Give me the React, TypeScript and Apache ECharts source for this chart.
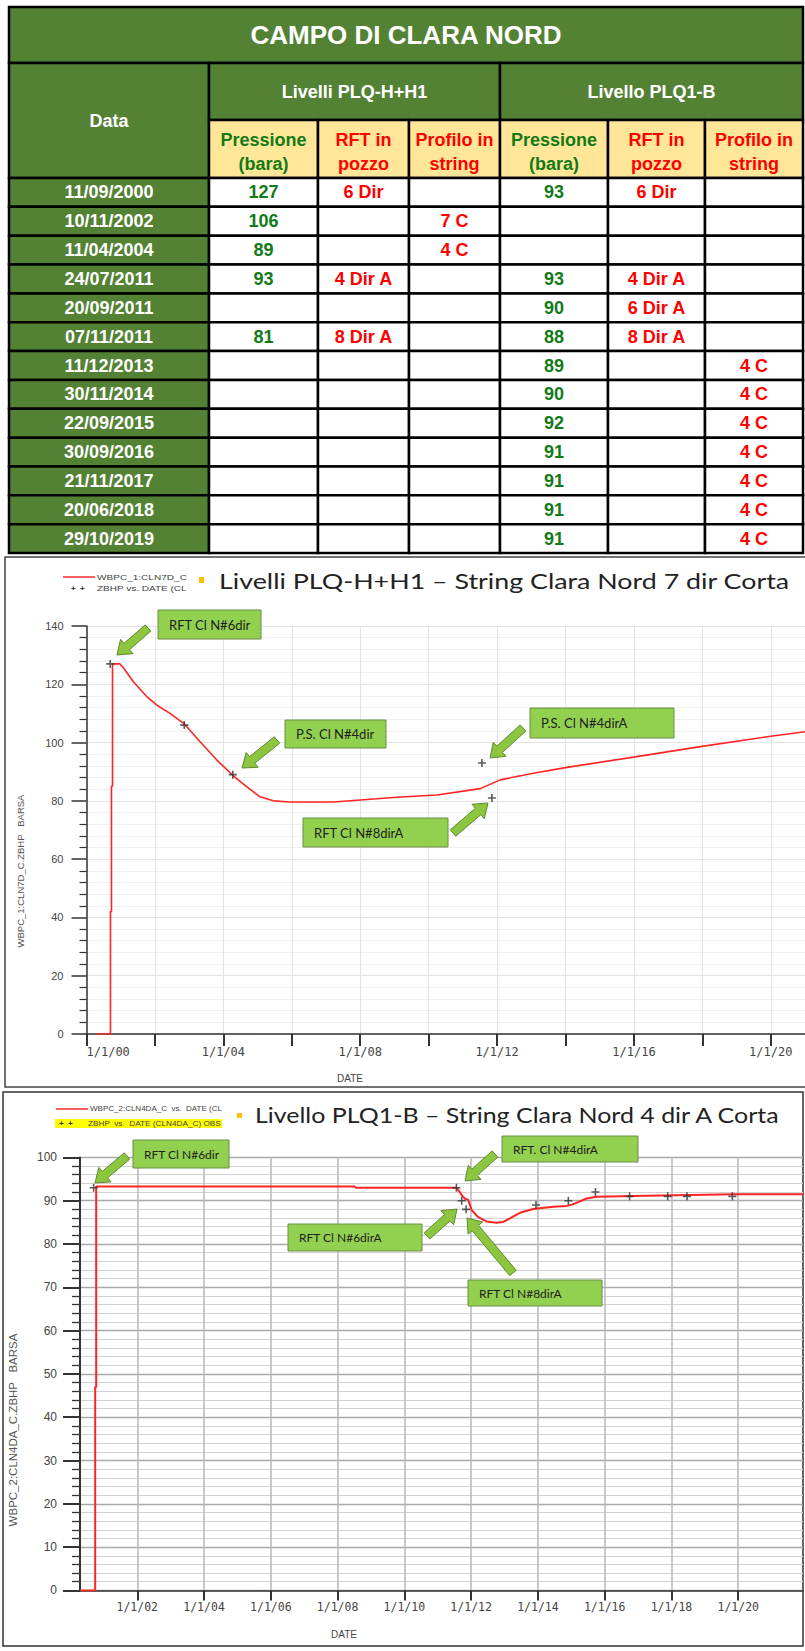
import React, { useEffect, useRef } from 'react';
import * as echarts from 'echarts';

// ---------------- Table data ----------------
const tableTitle = 'CAMPO DI CLARA NORD';
const dateHeader = 'Data';
const groupHeaders = ['Livelli PLQ-H+H1', 'Livello PLQ1-B'];
const subHeaders = [['Pressione', '(bara)'], ['RFT in', 'pozzo'], ['Profilo in', 'string']];
const dates = ['11/09/2000', '10/11/2002', '11/04/2004', '24/07/2011', '20/09/2011', '07/11/2011', '11/12/2013', '30/11/2014', '22/09/2015', '30/09/2016', '21/11/2017', '20/06/2018', '29/10/2019'];
const pressHH1: (number | null)[] = [127, 106, 89, 93, null, 81, null, null, null, null, null, null, null];
const rftHH1 = ['6 Dir', '', '', '4 Dir A', '', '8 Dir A', '', '', '', '', '', '', ''];
const profHH1 = ['', '7 C', '4 C', '', '', '', '', '', '', '', '', '', ''];
const pressQ1B: (number | null)[] = [93, null, null, 93, 90, 88, 89, 90, 92, 91, 91, 91, 91];
const rftQ1B = ['6 Dir', '', '', '4 Dir A', '6 Dir A', '8 Dir A', '', '', '', '', '', '', ''];
const profQ1B = ['', '', '', '', '', '', '4 C', '4 C', '4 C', '4 C', '4 C', '4 C', '4 C'];

// ---------------- Chart 1 (simulated curve, decimal years) ----------------
const chart1Title = 'Livelli PLQ-H+H1 – String Clara Nord 7 dir Corta';
const sim1Years = [2000.29, 2000.70, 2000.70, 2000.73, 2000.73, 2000.76, 2000.76, 2000.98, 2001.10, 2001.37, 2001.76, 2002.05, 2002.44, 2002.86, 2003.32, 2003.81, 2004.29, 2004.68, 2005.07, 2005.46, 2005.95, 2007.22, 2008.00, 2009.17, 2010.24, 2011.51, 2012.09, 2013.06, 2014.04, 2015.99, 2017.94, 2019.89, 2021.00];
const sim1Values = [0, 0, 42, 42, 85, 85, 127, 127, 125.3, 120.9, 115.8, 112.9, 110.0, 106.4, 100.3, 94.0, 88.6, 84.9, 81.4, 80.0, 79.6, 79.6, 80.3, 81.3, 82.0, 84.2, 87.2, 89.5, 91.5, 95.0, 98.6, 102.0, 103.7];
const x1LabelYears = [2000, 2004, 2008, 2012, 2016, 2020];
const x1Labels = ['1/1/00', '1/1/04', '1/1/08', '1/1/12', '1/1/16', '1/1/20'];
const y1Name = 'WBPC_1:CLN7D_C.ZBHP   BARSA';
const legend1Line = 'WBPC_1:CLN7D_C';
const legend1Obs = 'ZBHP vs. DATE (CL';

// ---------------- Chart 2 ----------------
const chart2Title = 'Livello PLQ1-B – String Clara Nord 4 dir A Corta';
const sim2Years = [2000.285, 2000.74, 2000.74, 2000.77, 2000.77, 2008.50, 2008.55, 2011.57, 2011.72, 2011.81, 2011.91, 2012.02, 2012.21, 2012.46, 2012.76, 2012.96, 2013.16, 2013.46, 2013.86, 2014.46, 2014.86, 2015.06, 2015.46, 2015.76, 2016.86, 2019.85, 2021.94];
const sim2Values = [0, 0, 47, 47, 93.3, 93.3, 93.0, 93.0, 91.3, 90.5, 90.2, 87.8, 86.2, 85.2, 84.9, 85.1, 85.9, 87.2, 88.1, 88.6, 88.8, 89.2, 90.5, 90.9, 91.1, 91.5, 91.5];
const x2TickYears = [2002, 2004, 2006, 2008, 2010, 2012, 2014, 2016, 2018, 2020];
const x2Labels = ['1/1/02', '1/1/04', '1/1/06', '1/1/08', '1/1/10', '1/1/12', '1/1/14', '1/1/16', '1/1/18', '1/1/20'];
const y2Name = 'WBPC_2:CLN4DA_C.ZBHP   BARSA';
const legend2Line = 'WBPC_2:CLN4DA_C  vs.  DATE (CL';
const legend2Obs = 'ZBHP  vs.  DATE (CLN4DA_C) OBS';

// ---------------- helpers ----------------
function toYear(s: string): number {
  const [d, m, y] = s.split('/').map(Number);
  const start = Date.UTC(y, 0, 1);
  const end = Date.UTC(y + 1, 0, 1);
  return y + (Date.UTC(y, m - 1, d) - start) / (end - start);
}

let measureCtx: CanvasRenderingContext2D | null = null;
function fitScale(text: string, font: string, target: number): number {
  if (!measureCtx) measureCtx = document.createElement('canvas').getContext('2d');
  if (!measureCtx) return 1;
  measureCtx.font = font;
  const w = measureCtx.measureText(text).width;
  return w > 0 ? target / w : 1;
}

function arrowPoints(x1: number, y1: number, x2: number, y2: number, sw = 4.2, hw = 9.5, hl = 13) {
  const dx = x2 - x1, dy = y2 - y1;
  const len = Math.sqrt(dx * dx + dy * dy);
  const ux = dx / len, uy = dy / len;
  const nx = -uy, ny = ux;
  const bx = x2 - ux * hl, by = y2 - uy * hl;
  return [
    [x1 + nx * sw, y1 + ny * sw],
    [bx + nx * sw, by + ny * sw],
    [bx + nx * hw, by + ny * hw],
    [x2, y2],
    [bx - nx * hw, by - ny * hw],
    [bx - nx * sw, by - ny * sw],
    [x1 - nx * sw, y1 - ny * sw],
  ];
}

const GREEN = '#548235';
const YELLOW = '#FFE699';
const TXT_GREEN = '#137A17';
const RED = '#FF0000';
const TABLE_FONT = '"Liberation Sans", Arial, sans-serif';

function buildGraphics() {
  const els: any[] = [];
  const colX = [9, 209, 318, 409, 500, 608, 705, 803];
  const yTop = 7, yGroup = 63, ySub = 120, yData = 178, rowH = 28.85;

  const rect = (x0: number, y0: number, x1: number, y1: number, fill: string) =>
    els.push({ type: 'rect', z: 1, shape: { x: x0, y: y0, width: x1 - x0, height: y1 - y0 }, style: { fill, stroke: '#000', lineWidth: 2.5 } });
  const txt = (x: number, y: number, text: string, color: string, size: number) =>
    els.push({ type: 'text', z: 2, x, y, style: { text, fill: color, fontSize: size, fontFamily: TABLE_FONT, fontWeight: 'bold', align: 'center', verticalAlign: 'middle' } });

  // title
  rect(colX[0], yTop, colX[7], yGroup, GREEN);
  txt((colX[0] + colX[7]) / 2, 35, tableTitle, '#fff', 26);
  // Data header
  rect(colX[0], yGroup, colX[1], yData, GREEN);
  txt((colX[0] + colX[1]) / 2, 121, dateHeader, '#fff', 18);
  // group headers
  rect(colX[1], yGroup, colX[4], ySub, GREEN);
  rect(colX[4], yGroup, colX[7], ySub, GREEN);
  txt((colX[1] + colX[4]) / 2, 92, groupHeaders[0], '#fff', 18);
  txt((colX[4] + colX[7]) / 2, 92, groupHeaders[1], '#fff', 18);
  // sub headers
  for (let c = 0; c < 6; c++) {
    rect(colX[c + 1], ySub, colX[c + 2], yData, YELLOW);
    const sh = subHeaders[c % 3];
    const col = c % 3 === 0 ? TXT_GREEN : RED;
    const cx = (colX[c + 1] + colX[c + 2]) / 2;
    txt(cx, 140, sh[0], col, 18);
    txt(cx, 164, sh[1], col, 18);
  }
  // data rows
  const cols: [any[], string][] = [
    [pressHH1, TXT_GREEN], [rftHH1, RED], [profHH1, RED],
    [pressQ1B, TXT_GREEN], [rftQ1B, RED], [profQ1B, RED],
  ];
  dates.forEach((d, i) => {
    const y0 = yData + i * rowH, y1 = y0 + rowH, cy = (y0 + y1) / 2;
    rect(colX[0], y0, colX[1], y1, GREEN);
    txt((colX[0] + colX[1]) / 2, cy, d, '#fff', 18);
    cols.forEach(([arr, color], c) => {
      rect(colX[c + 1], y0, colX[c + 2], y1, '#fff');
      const v = arr[i];
      if (v !== null && v !== '' && v !== undefined) txt((colX[c + 1] + colX[c + 2]) / 2, cy, String(v), color, 18);
    });
  });

  // ---------- chart frames ----------
  els.push({ type: 'polyline', z: 0, shape: { points: [[812, 557], [5, 557], [5, 1087], [812, 1087]] }, style: { fill: 'none', stroke: '#444', lineWidth: 1.5 } });
  els.push({ type: 'rect', z: 0, shape: { x: 3, y: 1092, width: 800, height: 554 }, style: { fill: 'none', stroke: '#333', lineWidth: 1.5 } });

  // ---------- legends & titles ----------
  const smallFont = '8px "Liberation Sans", Arial, sans-serif';
  const legendText = (x: number, y: number, text: string, width: number) =>
    els.push({ type: 'text', z: 5, x, y, scaleX: fitScale(text, smallFont, width), style: { text, fill: '#444', fontSize: 8, fontFamily: '"Liberation Sans", Arial, sans-serif', align: 'left', verticalAlign: 'middle' } });
  const titleFont = '21px Lato';
  const title = (x: number, y: number, text: string, width: number) =>
    els.push({ type: 'text', z: 5, x, y, scaleX: fitScale(text, titleFont, width), style: { text, fill: '#222', fontSize: 21, fontFamily: 'Lato', align: 'left', verticalAlign: 'middle' } });
  const plus = (x: number, y: number) =>
    els.push({ type: 'text', z: 5, x, y, style: { text: '+  +', fill: '#333', fontSize: 8, fontWeight: 'bold', fontFamily: '"Liberation Sans", Arial, sans-serif', align: 'left', verticalAlign: 'middle' } });

  // chart 1 legend
  els.push({ type: 'line', z: 5, shape: { x1: 63, y1: 577, x2: 95, y2: 577 }, style: { stroke: '#ff2a2a', lineWidth: 1.5 } });
  legendText(97, 577, legend1Line, 90);
  plus(71, 588);
  legendText(97, 588, legend1Obs, 90);
  els.push({ type: 'rect', z: 5, shape: { x: 199, y: 577, width: 5, height: 6 }, style: { fill: '#FFC000' } });
  title(219, 581, chart1Title, 571);

  // chart 2 legend
  els.push({ type: 'line', z: 5, shape: { x1: 56, y1: 1109, x2: 88, y2: 1109 }, style: { stroke: '#ff2a2a', lineWidth: 1.5 } });
  legendText(90, 1109, legend2Line, 132);
  els.push({ type: 'rect', z: 4, shape: { x: 55, y: 1119, width: 167, height: 9 }, style: { fill: '#FFFF00' } });
  plus(59, 1123.5);
  legendText(88, 1123.5, legend2Obs, 133);
  els.push({ type: 'rect', z: 5, shape: { x: 237, y: 1113, width: 5, height: 5 }, style: { fill: '#FFC000' } });
  title(255, 1115, chart2Title, 526);

  // axis names
  els.push({ type: 'text', z: 5, x: 20, y: 871, rotation: Math.PI / 2, style: { text: y1Name, fill: '#555', fontSize: 9.5, fontFamily: '"Liberation Sans", Arial, sans-serif', align: 'center', verticalAlign: 'middle' } });
  els.push({ type: 'text', z: 5, x: 13, y: 1430, rotation: Math.PI / 2, style: { text: y2Name, fill: '#555', fontSize: 11.5, fontFamily: '"Liberation Sans", Arial, sans-serif', align: 'center', verticalAlign: 'middle' } });
  els.push({ type: 'text', z: 5, x: 350, y: 1078, style: { text: 'DATE', fill: '#444', fontSize: 10, fontFamily: '"Liberation Sans", Arial, sans-serif', align: 'center', verticalAlign: 'middle' } });
  els.push({ type: 'text', z: 5, x: 344, y: 1634, style: { text: 'DATE', fill: '#444', fontSize: 10, fontFamily: '"Liberation Sans", Arial, sans-serif', align: 'center', verticalAlign: 'middle' } });

  // ---------- annotations ----------
  const notes = [
    { text: 'RFT Cl N#6dir', box: [158, 610, 103, 29], arrow: [148, 628, 117, 655], size: 13 },
    { text: 'P.S. Cl N#4dir', box: [285, 720, 101, 28], arrow: [277, 740, 242, 768], size: 13 },
    { text: 'RFT Cl N#8dirA', box: [303, 818, 145, 29], arrow: [453, 833, 488, 803], size: 13 },
    { text: 'P.S. Cl N#4dirA', box: [530, 708, 144, 30], arrow: [523, 728, 490, 758], size: 13 },
    { text: 'RFT Cl N#6dir', box: [133, 1140, 96, 28], arrow: [127, 1156, 95, 1183], size: 12 },
    { text: 'RFT. Cl N#4dirA', box: [502, 1136, 136, 26], arrow: [495, 1154, 465, 1181], size: 12 },
    { text: 'RFT Cl N#6dirA', box: [288, 1224, 134, 27], arrow: [427, 1236, 457, 1209], size: 12 },
    { text: 'RFT Cl N#8dirA', box: [468, 1280, 134, 26], arrow: [513, 1273, 467, 1218], size: 12 },
  ];
  notes.forEach((n) => {
    const [bx, by, bw, bh] = n.box;
    els.push({ type: 'rect', z: 20, shape: { x: bx, y: by, width: bw, height: bh }, style: { fill: '#92D050', stroke: '#6b8e45', lineWidth: 1 } });
    els.push({ type: 'text', z: 21, x: bx + 11, y: by + bh / 2, style: { text: n.text, fill: '#1e1e1e', fontSize: n.size, fontFamily: 'Lato', align: 'left', verticalAlign: 'middle' } });
    const [x1, y1, x2, y2] = n.arrow;
    els.push({ type: 'polygon', z: 20, shape: { points: arrowPoints(x1, y1, x2, y2) }, style: { fill: '#8CC63F', stroke: '#5f8a34', lineWidth: 1 } });
  });
  return els;
}

function buildOption() {
  const obs1 = dates.map((d, i) => (pressHH1[i] !== null ? [toYear(d), pressHH1[i]] : null)).filter(Boolean);
  const obs2 = dates.map((d, i) => (pressQ1B[i] !== null ? [toYear(d), pressQ1B[i]] : null)).filter(Boolean);
  const plusSymbol = 'path://M4,0H6V4H10V6H6V10H4V6H0V4H4Z';
  const axisFont = '"Liberation Sans", Arial, sans-serif';

  return {
    animation: false,
    backgroundColor: '#ffffff',
    grid: [
      { left: 86.5, top: 626, width: 718.5, height: 408 },
      { left: 80, top: 1157.4, width: 723, height: 433 },
    ],
    xAxis: [
      {
        type: 'value', gridIndex: 0, min: 2000, max: 2021, interval: 2,
        axisLine: { show: true, onZero: false, lineStyle: { color: '#333', width: 1.5 } },
        axisTick: { show: true, length: 12, lineStyle: { color: '#333', width: 2 } },
        axisLabel: {
          formatter: (v: number) => {
            const idx = x1LabelYears.findIndex((y) => Math.abs(y - v) < 1e-6);
            return idx >= 0 ? x1Labels[idx] : '';
          },
          fontFamily: '"DejaVu Sans Mono", monospace', fontSize: 12, color: '#444', margin: 12,
          alignMinLabel: 'left', showMaxLabel: false,
        },
        splitLine: { show: true, lineStyle: { color: '#e3e3e3', width: 1 } },
      },
      {
        type: 'value', gridIndex: 1, min: 2000.285, max: 2021.94,
        axisLine: { show: true, onZero: false, lineStyle: { color: '#333', width: 1.5 } },
        axisTick: { show: true, length: 10, customValues: x2TickYears, lineStyle: { color: '#333', width: 2 } },
        axisLabel: {
          customValues: x2TickYears,
          formatter: (v: number) => {
            const idx = x2TickYears.findIndex((y) => Math.abs(y - v) < 1e-6);
            return idx >= 0 ? x2Labels[idx] : '';
          },
          fontFamily: '"DejaVu Sans Mono", monospace', fontSize: 11.5, color: '#444', margin: 11,
        },
        splitLine: { show: true, lineStyle: { color: '#b9b9b9', width: 1.5 } },
      },
    ],
    yAxis: [
      {
        type: 'value', gridIndex: 0, min: 0, max: 140, interval: 20,
        axisLine: { show: true, onZero: false, lineStyle: { color: '#333', width: 1.5 } },
        axisTick: { show: true, length: 15, lineStyle: { color: '#333', width: 1.5 } },
        minorTick: { show: true, splitNumber: 5, length: 7, lineStyle: { color: '#333', width: 1.2 } },
        axisLabel: { fontFamily: axisFont, fontSize: 11, color: '#444', margin: 23 },
        splitLine: { show: true, lineStyle: { color: '#e3e3e3', width: 1 } },
        minorSplitLine: { show: true, lineStyle: { color: '#efefef', width: 1 } },
      },
      {
        type: 'value', gridIndex: 1, min: 0, max: 100, interval: 10,
        axisLine: { show: true, onZero: false, lineStyle: { color: '#333', width: 2 } },
        axisTick: { show: true, length: 17, lineStyle: { color: '#333', width: 2 } },
        minorTick: { show: true, splitNumber: 5, length: 8, lineStyle: { color: '#333', width: 1.3 } },
        axisLabel: { fontFamily: axisFont, fontSize: 12, color: '#444', margin: 23 },
        splitLine: { show: true, lineStyle: { color: '#a9a9a9', width: 1.4 } },
        minorSplitLine: { show: true, lineStyle: { color: '#d2d2d2', width: 1 } },
      },
    ],
    series: [
      {
        type: 'line', xAxisIndex: 0, yAxisIndex: 0, showSymbol: false, symbol: 'none', z: 3,
        data: sim1Years.map((x, i) => [x, sim1Values[i]]),
        lineStyle: { color: '#ff2424', width: 1.6 },
      },
      {
        type: 'scatter', xAxisIndex: 0, yAxisIndex: 0, symbol: plusSymbol, symbolSize: 8, z: 4,
        data: obs1, itemStyle: { color: '#333' },
      },
      {
        type: 'line', xAxisIndex: 1, yAxisIndex: 1, showSymbol: false, symbol: 'none', z: 3,
        data: sim2Years.map((x, i) => [x, sim2Values[i]]),
        lineStyle: { color: '#ff2424', width: 2 },
      },
      {
        type: 'scatter', xAxisIndex: 1, yAxisIndex: 1, symbol: plusSymbol, symbolSize: 8, z: 4,
        data: obs2, itemStyle: { color: '#333' },
      },
    ],
    graphic: { elements: buildGraphics() },
  };
}

export default function App() {
  const ref = useRef<HTMLDivElement>(null);
  useEffect(() => {
    document.body.style.margin = '0';
    if (!ref.current) return;
    const chart = echarts.init(ref.current, null, { renderer: 'svg' });
    chart.setOption(buildOption() as any);
    return () => chart.dispose();
  }, []);
  return <div ref={ref} style={{ position: 'absolute', left: 0, top: 0, width: 805, height: 1651, background: '#fff' }} />;
}
